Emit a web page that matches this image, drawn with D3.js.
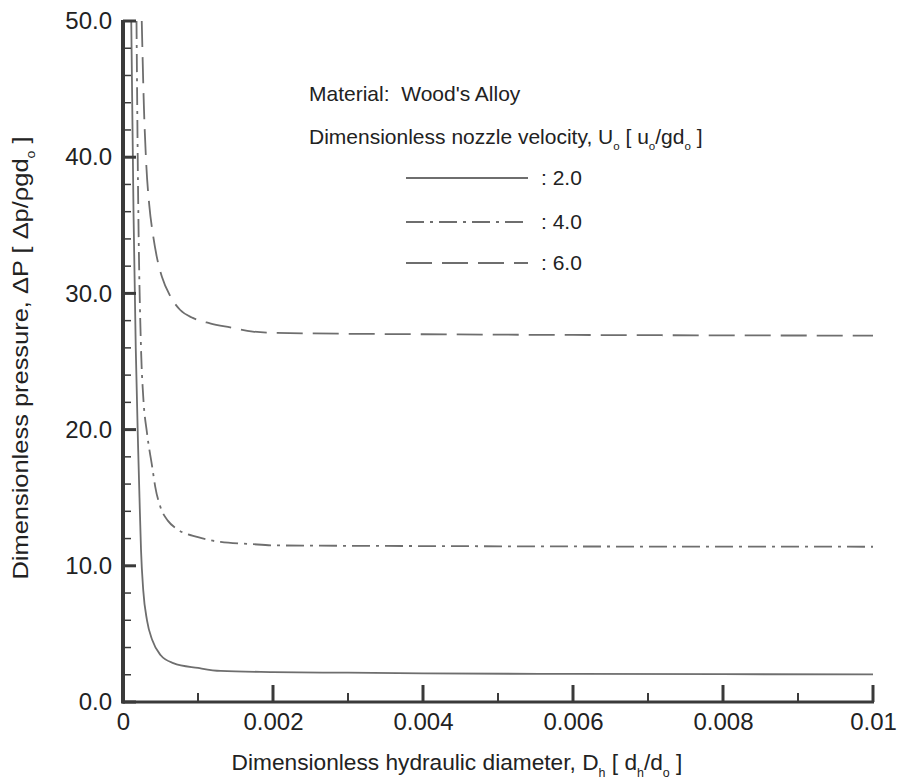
<!DOCTYPE html>
<html>
<head>
<meta charset="utf-8">
<script src="https://cdn.jsdelivr.net/npm/d3@7"></script>
<style>
	body { margin: 0; background: #fff; }
	text { font-family: "Liberation Sans", Arial, sans-serif; fill: #222; }
	.axis-line { stroke: #3a3a3a; }
</style>
</head>
<body>
<div id="chart"></div>
<script>
//Data: [Dh, dP]
var u2Points = [[0.00011, 50], [0.00014, 36], [0.00017, 26], [0.0002, 19], [0.00022, 15], [0.00024, 11.2],
	[0.00027, 8.2], [0.00032, 6.0], [0.00039, 4.55], [0.0005, 3.45], [0.00067, 2.86], [0.001, 2.5],
	[0.0013, 2.28], [0.002, 2.2], [0.003, 2.15], [0.004, 2.1], [0.006, 2.06], [0.008, 2.04], [0.01, 2.03]];
var u4Points = [[0.00018, 50], [0.0002, 38], [0.00024, 26], [0.00027, 22.4], [0.00032, 19.75], [0.00039, 17.25],
	[0.00043, 15.8], [0.0005, 14.3], [0.0006, 13.3], [0.00072, 12.7], [0.001, 12.1], [0.0013, 11.75],
	[0.0017, 11.6], [0.002, 11.5], [0.004, 11.45], [0.006, 11.42], [0.01, 11.4]];
var u6Points = [[0.00025, 50], [0.00028, 43.5], [0.00031, 39.5], [0.00035, 36.5], [0.0004, 34.3], [0.00045, 32.7],
	[0.00052, 31.2], [0.00063, 29.8], [0.00076, 28.8], [0.00093, 28.2], [0.00116, 27.8], [0.00143, 27.5],
	[0.00173, 27.2], [0.002, 27.1], [0.004, 27.0], [0.006, 26.95], [0.01, 26.9]];

var seriesLabels = [": 2.0", ": 4.0", ": 6.0"];
var seriesDash = ["none", "18,6,3,6", "26,10"];

var xMajorTicks = [0, 0.002, 0.004, 0.006, 0.008, 0.01];
var xMinorTicks = [0.001, 0.003, 0.005, 0.007, 0.009];
var yMajorTicks = [0, 10, 20, 30, 40, 50];
var yMinorTicks = [2, 4, 6, 8, 12, 14, 16, 18, 22, 24, 26, 28, 32, 34, 36, 38, 42, 44, 46, 48];

//SVG setup
var margin = { top: 21, right: 27, bottom: 79, left: 123 };
var width = 750;
var height = 681;

var svg = d3.select("#chart")
	.append("svg")
	.attr("width", 900)
	.attr("height", 781)
	.append("g")
	.attr("transform", "translate(" + margin.left + "," + margin.top + ")");

//Scales
var x = d3.scaleLinear().domain([0, 0.01]).range([0, width]);
var y = d3.scaleLinear().domain([0, 50]).range([height, 0]);

svg.append("clipPath")
	.attr("id", "plotClip")
	.append("rect")
	.attr("width", width)
	.attr("height", height);

//Curves
var line = d3.line()
	.curve(d3.curveMonotoneX)
	.x(function(d) { return x(d[0]); })
	.y(function(d) { return y(d[1]); });

[u2Points, u4Points, u6Points].forEach(function(pts, i) {
	svg.append("path")
		.datum(pts)
		.attr("clip-path", "url(#plotClip)")
		.attr("fill", "none")
		.attr("stroke", "#6e6e6e")
		.attr("stroke-width", 1.8)
		.attr("stroke-dasharray", seriesDash[i])
		.attr("d", line);
});

//x axis: major + minor ticks pointing inward
var xAxis = svg.append("g")
	.attr("transform", "translate(0," + height + ")");
xAxis.call(d3.axisBottom(x).tickValues(xMajorTicks).tickSize(0).tickPadding(11)
	.tickFormat(function(d) { return d === 0 ? "0" : d3.format(".3~f")(d); }));
xAxis.select(".domain").remove();
xAxis.selectAll(".tick text").attr("font-size", 24).attr("fill", "#222").attr("font-family", null);
xAxis.selectAll(".major").data(xMajorTicks).enter().append("line")
	.attr("class", "axis-line").attr("stroke-width", 3)
	.attr("x1", x).attr("x2", x).attr("y1", 0).attr("y2", -17);
xAxis.selectAll(".minor").data(xMinorTicks).enter().append("line")
	.attr("class", "axis-line").attr("stroke-width", 2)
	.attr("x1", x).attr("x2", x).attr("y1", 0).attr("y2", -9);

//y axis
var yAxis = svg.append("g");
yAxis.call(d3.axisLeft(y).tickValues(yMajorTicks).tickSize(0).tickPadding(11)
	.tickFormat(d3.format(".1f")));
yAxis.select(".domain").remove();
yAxis.selectAll(".tick text").attr("font-size", 24).attr("fill", "#222").attr("font-family", null);
yAxis.selectAll(".major").data(yMajorTicks).enter().append("line")
	.attr("class", "axis-line").attr("stroke-width", 3)
	.attr("y1", y).attr("y2", y).attr("x1", 0).attr("x2", 13);
yAxis.selectAll(".minor").data(yMinorTicks).enter().append("line")
	.attr("class", "axis-line").attr("stroke-width", 1.5)
	.attr("y1", y).attr("y2", y).attr("x1", 0).attr("x2", 8);

//axis lines
svg.append("line").attr("class", "axis-line").attr("stroke-width", 4)
	.attr("x1", 0).attr("x2", 0).attr("y1", -1).attr("y2", height + 1.5);
svg.append("line").attr("class", "axis-line").attr("stroke-width", 3)
	.attr("x1", -1).attr("x2", width + 1).attr("y1", height).attr("y2", height);

//helper for text with subscripts: parts = [[text, isSub], ...]
var richText = function(sel, parts) {
	parts.forEach(function(p) {
		var t = sel.append("tspan").text(p[0]);
		if (p[1]) t.attr("font-size", "0.55em").attr("baseline-shift", "sub");
	});
};

//axis titles
var xTitle = svg.append("text")
	.attr("x", 334)
	.attr("y", height + 68)
	.attr("text-anchor", "middle")
	.attr("font-size", 22.7);
richText(xTitle, [["Dimensionless hydraulic diameter, D"], ["h", true], [" [ d"], ["h", true], ["/d"], ["o", true], [" ]"]]);

var yTitle = svg.append("text")
	.attr("transform", "translate(" + (-95) + "," + (height / 2 - 3.5) + ") rotate(-90)")
	.attr("text-anchor", "middle")
	.attr("font-size", 22.5)
	.attr("textLength", 443)
	.attr("lengthAdjust", "spacingAndGlyphs");
richText(yTitle, [["Dimensionless pressure, \u0394P [ \u0394p/\u03c1gd"], ["o", true], [" ]"]]);

//legend
var legend = svg.append("g").attr("transform", "translate(186,0)");
legend.append("text").attr("x", 0).attr("y", 80).attr("font-size", 21)
	.text("Material:\u00a0 Wood's Alloy");
var legTitle = legend.append("text").attr("x", 0).attr("y", 123).attr("font-size", 21);
richText(legTitle, [["Dimensionless nozzle velocity, U"], ["o", true], [" [ u"], ["o", true], ["/gd"], ["o", true], [" ]"]]);

var legendRows = legend.selectAll(".legend-row")
	.data(seriesLabels)
	.enter()
	.append("g")
	.attr("class", "legend-row")
	.attr("transform", function(d, i) { return "translate(0," + [157, 201, 242][i] + ")"; });
legendRows.append("line")
	.attr("x1", 97).attr("x2", 219).attr("y1", 0).attr("y2", 0)
	.attr("stroke", "#6e6e6e")
	.attr("stroke-width", 1.8)
	.attr("stroke-dasharray", function(d, i) { return seriesDash[i]; });
legendRows.append("text")
	.attr("x", 232).attr("y", 7).attr("font-size", 21)
	.text(function(d) { return d; });
</script>
</body>
</html>
